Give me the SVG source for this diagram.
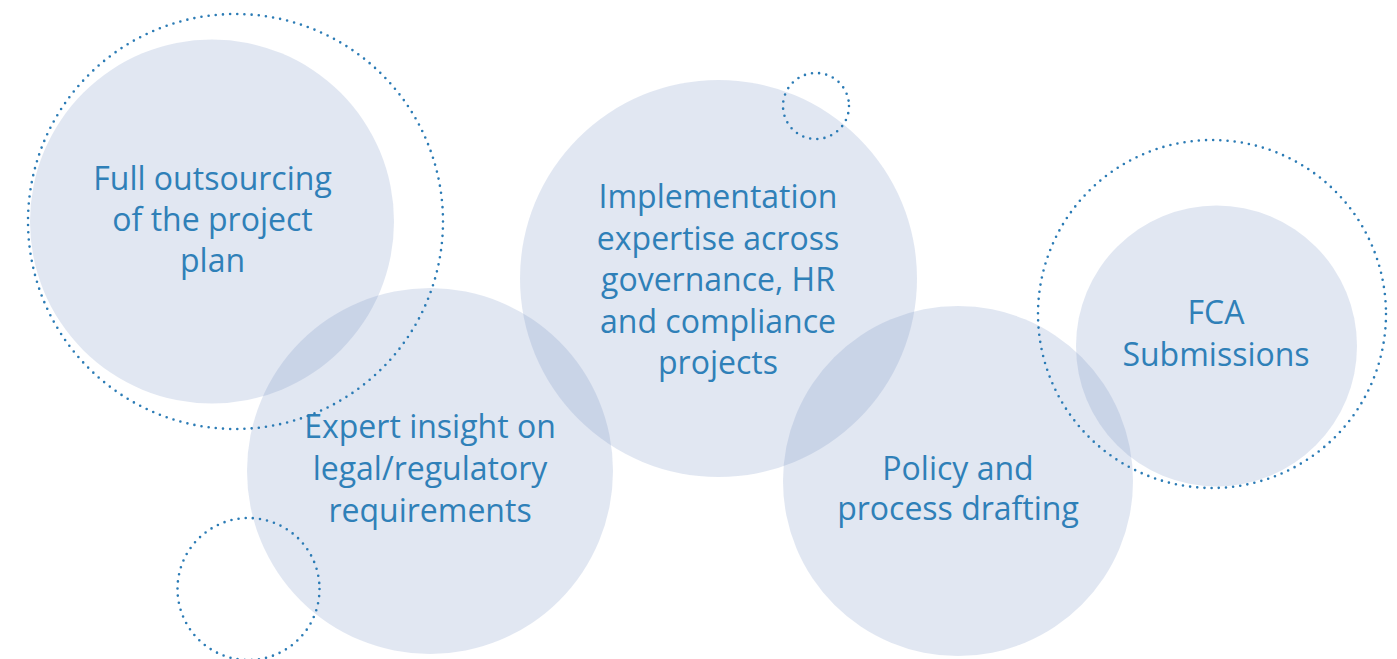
<svg xmlns="http://www.w3.org/2000/svg" width="1397" height="659" viewBox="0 0 1397 659">
<style>
.bub{fill:#7390c0;fill-opacity:0.21;}
.dot{fill:none;stroke:#2b7bb5;stroke-width:2.6;stroke-linecap:round;stroke-dasharray:0 7.2;}
.lbl{font-family:"Open Sans","Liberation Sans",sans-serif;font-size:32px;fill:#2f80b8;text-anchor:middle;}
</style>
<rect width="1397" height="659" fill="#ffffff"/>
<g id="node-full-outsourcing">
<circle class="bub" cx="212" cy="221.5" r="182"/>
<text class="lbl" x="212.5" y="190">Full outsourcing</text>
<text class="lbl" x="212.5" y="231">of the project</text>
<text class="lbl" x="212.5" y="272">plan</text>
</g>
<g id="node-expert-insight">
<circle class="bub" cx="430" cy="471" r="183"/>
<text class="lbl" x="430" y="438">Expert insight on</text>
<text class="lbl" x="430" y="480">legal/regulatory</text>
<text class="lbl" x="430" y="522">requirements</text>
</g>
<g id="node-implementation">
<circle class="bub" cx="718.5" cy="278.5" r="198.5"/>
<text class="lbl" x="718" y="208">Implementation</text>
<text class="lbl" x="718" y="250">expertise across</text>
<text class="lbl" x="718" y="291">governance, HR</text>
<text class="lbl" x="718" y="333">and compliance</text>
<text class="lbl" x="718" y="374">projects</text>
</g>
<g id="node-policy">
<circle class="bub" cx="958" cy="481" r="175"/>
<text class="lbl" x="958" y="480">Policy and</text>
<text class="lbl" x="958" y="520">process drafting</text>
</g>
<g id="node-fca">
<circle class="bub" cx="1216.5" cy="346" r="140.5"/>
<text class="lbl" x="1216" y="324">FCA</text>
<text class="lbl" x="1216" y="366">Submissions</text>
</g>
<g id="decor-dotted">
<circle class="dot" cx="235.5" cy="221.5" r="207.5"/>
<circle class="dot" cx="248.5" cy="589" r="71"/>
<circle class="dot" cx="816" cy="106" r="33"/>
<circle class="dot" cx="1212" cy="314" r="174"/>
</g>
</svg>
